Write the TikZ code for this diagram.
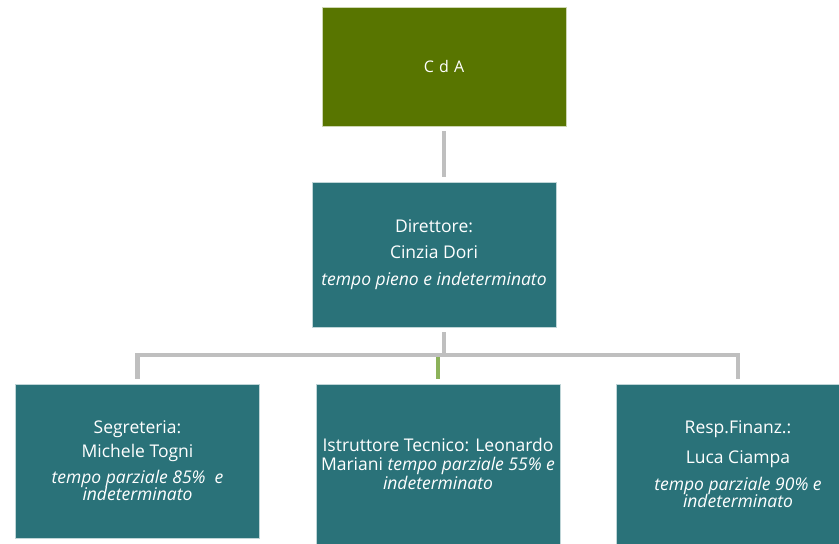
\documentclass[tikz,border=0pt]{standalone}
\usepackage{fontspec}
\setmainfont{Open Sans}
\usetikzlibrary{calc,positioning}
\definecolor{cdagreen}{RGB}{88,117,0}
\definecolor{boxteal}{RGB}{42,114,121}
\definecolor{linkgray}{RGB}{191,191,191}
\definecolor{droplime}{RGB}{140,178,90}
\tikzset{
  orgbox/.style={rectangle, fill=boxteal, draw=white!70!boxteal, line width=0.6pt,
    text=white, align=center, minimum width=244pt, inner sep=2pt,
    font=\fontsize{17.5}{18}\selectfont},
  link/.style={draw=linkgray, line width=4.5pt},
}

\begin{document}
\begin{tikzpicture}[x=1pt,y=1pt,yscale=-1]
\useasboundingbox (0,0) rectangle (839,544);
\clip (0,0) rectangle (839,544);
%Boxes
\node[orgbox, fill=cdagreen, draw=white!70!cdagreen, minimum height=119pt,
  font=\fontsize{16}{17}\selectfont] (cda) at (444,66.5) {C\hspace{1pt} d\hspace{1pt} A};
\node[orgbox, minimum height=145pt] (dir) at (434,254.5)
  {Direttore:\\[8.5pt]Cinzia Dori\\[8.5pt]\textit{tempo pieno e indeterminato}};
\node[orgbox, minimum height=154pt] (seg) at (137.5,461)
  {Segreteria:\\[6pt]Michele Togni\\[8pt]\textit{tempo parziale 85\%~ e}\\[-1pt]\textit{indeterminato}};
\node[orgbox, minimum height=160pt] (ist) at (438,464)
  {Istruttore Tecnico: Leonardo\\[1pt]Mariani \textit{tempo parziale 55\% e}\\[1pt]\textit{indeterminato}};
\node[orgbox, minimum height=160pt] (fin) at (738,464)
  {Resp.Finanz.:\\[12pt]Luca Ciampa\\[9pt]\textit{tempo parziale 90\% e}\\[-1pt]\textit{indeterminato}};
%Connectors
\coordinate (bus) at (444,355);
\draw[link] ([yshift=5pt]cda.south) -- ([yshift=-5pt]cda.south |- dir.north);
\draw[link, draw=droplime] ([yshift=-5pt]ist.north) -- (ist.north |- bus);
\draw[link] ([yshift=5pt]dir.south -| bus) -- (bus);
\draw[link] ([yshift=-5pt]seg.north) |- (bus) -| ([yshift=-5pt]fin.north);
\end{tikzpicture}
\end{document}
